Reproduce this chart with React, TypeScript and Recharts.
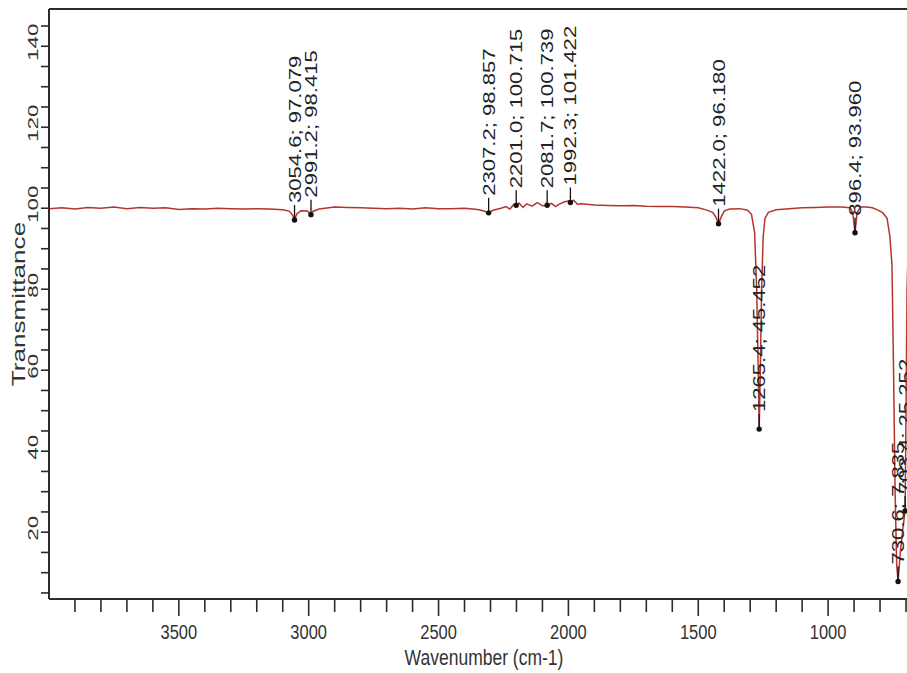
import { ComposedChart, Line, Scatter, XAxis, YAxis, ReferenceLine, Label } from "recharts";

// spectrum (cm-1, %T)
const wavenumbers = [
  4000, 3950, 3900, 3850, 3800, 3750, 3700, 3650, 3600, 3550, 3500, 3450, 3400, 3350, 3300, 3250, 3200, 3150,
  3100, 3075, 3062, 3054.6, 3046, 3030, 3005, 2998, 2991.2, 2984, 2960, 2900, 2850, 2800, 2750, 2700, 2650,
  2600, 2550, 2500, 2450, 2400, 2350, 2325, 2307.2, 2290, 2260, 2240, 2225, 2210, 2201.0, 2190, 2175, 2160,
  2140, 2120, 2100, 2081.7, 2065, 2050, 2035, 2015, 2000, 1992.3, 1980, 1965, 1950, 1900, 1850, 1800, 1750,
  1700, 1650, 1600, 1550, 1500, 1470, 1445, 1432, 1422.0, 1412, 1400, 1380, 1340, 1310, 1295, 1283, 1275,
  1269, 1265.4, 1261, 1256, 1250, 1243, 1230, 1200, 1150, 1100, 1050, 1000, 950, 915, 905, 896.4, 888, 875,
  850, 830, 810, 790, 773, 762, 754, 748, 742, 736, 730.6, 722, 712, 703.4, 700, 696, 690, 680, 665, 650,
];
const transmittance = [
  99.9, 100.1, 99.8, 100.2, 100.0, 100.3, 99.9, 100.2, 100.0, 100.1, 99.7, 99.9, 99.8, 100.0, 99.9, 99.8, 99.9, 99.8,
  99.6, 99.3, 98.3, 97.079, 98.6, 99.4, 99.3, 98.9, 98.415, 99.2, 99.8, 100.3, 100.2, 100.1, 100.0, 99.9, 100.0,
  99.8, 100.1, 99.9, 99.9, 100.0, 99.7, 99.3, 98.857, 99.5, 100.0, 100.4, 99.8, 101.0, 100.715, 101.3, 100.2, 101.1,
  100.5, 101.4, 100.6, 100.739, 101.2, 100.4, 101.0, 101.6, 101.8, 101.422, 102.0, 101.0, 101.1, 100.8, 100.7, 100.6, 100.7,
  100.5, 100.4, 100.4, 100.3, 100.1, 99.6, 99.0, 97.8, 96.18, 97.8, 99.3, 99.8, 99.9, 99.5, 98.5, 94, 80,
  60, 45.452, 60, 80, 93, 97.5, 99, 99.6, 99.9, 100.1, 100.2, 100.3, 100.3, 100.1, 98.8, 93.96, 99, 100.3,
  100.3, 100.1, 99.6, 98.9, 97.5, 93, 86, 60, 30, 12, 7.835, 15, 21, 25.252, 50, 80, 94, 98, 99, 99.2,
];

// labelled peaks
const peakWavenumbers = [3054.6, 2991.2, 2307.2, 2201.0, 2081.7, 1992.3, 1422.0, 1265.4, 896.4, 730.6, 703.4];
const peakTransmittance = [97.079, 98.415, 98.857, 100.715, 100.739, 101.422, 96.18, 45.452, 93.96, 7.835, 25.252];

const xLabelTicks = [3500, 3000, 2500, 2000, 1500, 1000];
const yLabelTicks = [20, 40, 60, 80, 100, 120, 140];
const xTicks = Array.from({ length: 33 }, (_, i) => 3900 - i * 100);
const yTicks = Array.from({ length: 29 }, (_, i) => 5 + i * 5);

const spectrum = wavenumbers.map((wn, i) => ({ wn, t: transmittance[i] }));
const peaks = peakWavenumbers.map((wn, i) => ({ wn, t: peakTransmittance[i] }));

const FONT = "'Liberation Sans', Arial, sans-serif";
const AXIS = "#2b2b2b";
const Y_MIN = 3.5;
const Y_MAX = 149.2;

const XTick = ({ x, y, payload }: any) => {
  const major = xLabelTicks.includes(payload.value);
  return (
    <g>
      <line x1={x} x2={x} y1={y} y2={y + (major ? 17 : 13)} stroke={AXIS} strokeWidth={1.6} />
      {major && (
        <text
          transform={`translate(${x},${y + 33}) scale(1,1.2)`}
          textAnchor="middle"
          dominantBaseline="central"
          fontSize={16.5}
          fontFamily={FONT}
          fill="#333"
        >
          {payload.value}
        </text>
      )}
    </g>
  );
};

const YTick = ({ x, y, payload }: any) => {
  const major = yLabelTicks.includes(payload.value);
  return (
    <g>
      <line x1={x - 8} x2={x} y1={y} y2={y} stroke={AXIS} strokeWidth={1.6} />
      {major && (
        <text
          transform={`translate(${x - 16.5},${y - 4}) scale(1,1.45) rotate(-90)`}
          textAnchor="middle"
          dominantBaseline="central"
          fontSize={15.5}
          fontFamily={FONT}
          fill="#333"
        >
          {payload.value}
        </text>
      )}
    </g>
  );
};

const PeakMark = ({ cx, cy, payload }: any) => (
  <g>
    <line x1={cx} x2={cx} y1={cy} y2={cy - 15} stroke="#111" strokeWidth={1.3} />
    <circle cx={cx} cy={cy} r={2.7} fill="#111" />
    <text
      transform={`translate(${cx},${cy - 17}) scale(1,1.3) rotate(-90)`}
      textAnchor="start"
      dominantBaseline="central"
      fontSize={17}
      fontFamily={FONT}
      fill="#222"
    >
      {`${payload.wn.toFixed(1)}; ${payload.t.toFixed(3)}`}
    </text>
  </g>
);

const App = () => (
  <div
    style={{
      position: "fixed",
      left: 0,
      top: 0,
      width: 907,
      height: 673,
      overflow: "hidden",
      background: "#fff",
    }}
  >
    <ComposedChart width={924} height={673} margin={{ top: 9, right: 5, left: 0, bottom: 0 }}>
      <XAxis
        dataKey="wn"
        type="number"
        domain={[650, 4000]}
        reversed
        allowDataOverflow
        ticks={xTicks}
        interval={0}
        tick={<XTick />}
        tickLine={false}
        tickSize={0}
        tickMargin={0}
        height={74}
        stroke={AXIS}
        strokeWidth={2}
      >
        <Label
          content={({ viewBox }: any) => (
            <text
              transform={`translate(${viewBox.x + viewBox.width / 2},${viewBox.y + 58}) scale(1,1.22)`}
              textAnchor="middle"
              dominantBaseline="central"
              fontSize={17.5}
              fontFamily={FONT}
              fill="#333"
            >
              Wavenumber (cm-1)
            </text>
          )}
        />
      </XAxis>
      <YAxis
        type="number"
        domain={[Y_MIN, Y_MAX]}
        allowDataOverflow
        ticks={yTicks}
        interval={0}
        tick={<YTick />}
        tickLine={false}
        tickSize={0}
        tickMargin={0}
        width={49}
        stroke={AXIS}
        strokeWidth={2}
      >
        <Label
          content={({ viewBox }: any) => (
            <text
              transform={`translate(19,${viewBox.y + viewBox.height / 2}) scale(1,1.45) rotate(-90)`}
              textAnchor="middle"
              dominantBaseline="central"
              fontSize={18}
              fontFamily={FONT}
              fill="#333"
            >
              Transmittance
            </text>
          )}
        />
      </YAxis>
      <ReferenceLine y={Y_MAX} stroke={AXIS} strokeWidth={2} ifOverflow="visible" />
      <Line
        data={spectrum}
        dataKey="t"
        type="linear"
        stroke="#b5352d"
        strokeWidth={1.5}
        dot={false}
        activeDot={false}
        isAnimationActive={false}
      />
      <Scatter data={peaks} dataKey="t" shape={<PeakMark />} isAnimationActive={false} />
    </ComposedChart>
  </div>
);

export default App;
